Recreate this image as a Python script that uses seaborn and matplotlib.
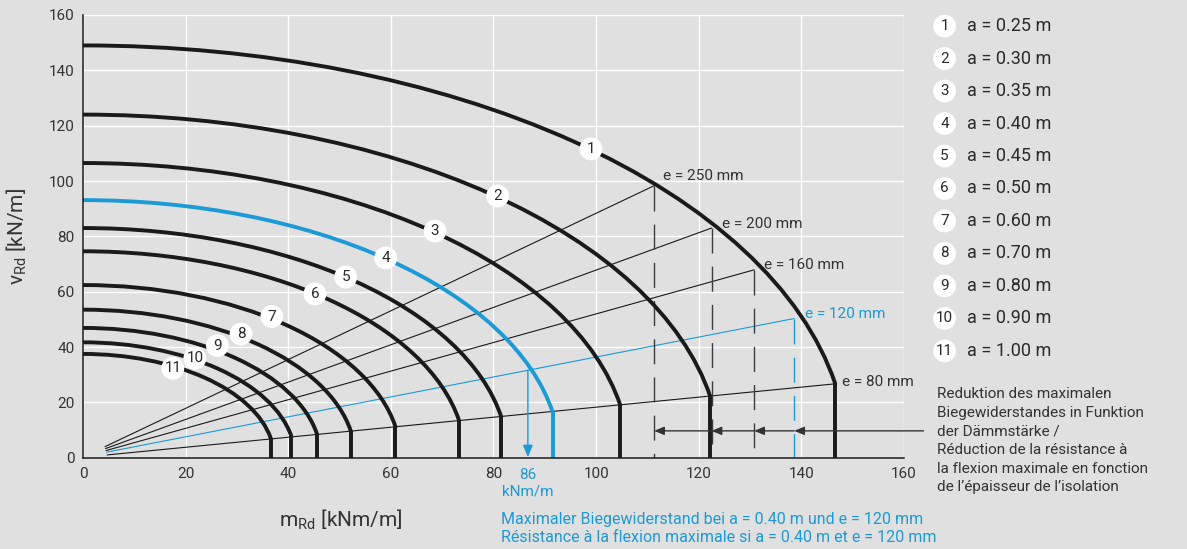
import numpy as np
import matplotlib
matplotlib.use("Agg")
import matplotlib.pyplot as plt
from matplotlib.patches import Arc
import seaborn as sns

# ---------------- data ----------------
curve_ids = [1, 2, 3, 4, 5, 6, 7, 8, 9, 10, 11]
a_values = ["0.25", "0.30", "0.35", "0.40", "0.45", "0.50", "0.60", "0.70", "0.80", "0.90", "1.00"]
v_max = [149.0, 124.0, 106.5, 93.1, 83.0, 74.6, 62.4, 53.5, 46.9, 41.7, 37.5]   # v_Rd at m_Rd = 0
m_max = [146.6, 122.2, 104.7, 91.5, 81.5, 73.3, 60.9, 52.2, 45.6, 40.6, 36.6]   # m_Rd of vertical drop
v_drop = [26.7, 22.3, 19.0, 16.6, 14.8, 13.4, 11.2, 9.6, 8.6, 7.8, 7.0]        # v_Rd where drop starts
highlight_id = 4

e_labels = ["e = 250 mm", "e = 200 mm", "e = 160 mm", "e = 120 mm", "e = 80 mm"]
e_start_m = [4.3, 4.4, 4.5, 4.6, 4.7]
e_start_v = [4.0, 3.3, 2.6, 2.0, 1.0]
e_end_m = [111.3, 122.5, 130.8, 138.6, 146.6]
e_end_v = [98.3, 83.0, 67.9, 50.3, 26.7]
e_highlight = "e = 120 mm"

arrow_level_v = 9.7
arrow_tail_m = 163.8
m_result = 86.7
v_result = 31.6

x_ticks = [0, 20, 40, 60, 80, 100, 120, 140, 160]
y_ticks = [0, 20, 40, 60, 80, 100, 120, 140, 160]

note_lines = ["Reduktion des maximalen",
              "Biegewiderstandes in Funktion",
              "der Dämmstärke /",
              "Réduction de la résistance à",
              "la flexion maximale en fonction",
              "de l\u2019épaisseur de l\u2019isolation"]
blue_note_lines = ["Maximaler Biegewiderstand bei a = 0.40 m und e = 120 mm",
                   "Résistance à la flexion maximale si a = 0.40 m et e = 120 mm"]

# ---------------- layout (label anchor positions) ----------------
num_pos_m = [99.0, 80.8, 68.6, 59.0, 51.2, 45.2, 36.8, 30.8, 26.2, 21.8, 17.5]
num_pos_v = [111.6, 94.6, 81.9, 72.2, 65.3, 59.2, 51.0, 44.7, 40.5, 35.9, 32.3]
e_lab_m = [113.0, 124.5, 132.7, 140.7, 148.0]
e_lab_v = [101.8, 84.5, 69.6, 51.9, 27.2]

BG = "#e0e0e0"
BLUE = "#1b9ad6"
INK = "#1a1a1a"
TXT = "#333333"
DASH = "#3c3c3c"

sns.set_theme(style="darkgrid", rc={
    "axes.facecolor": BG,
    "figure.facecolor": BG,
    "grid.color": "white",
    "grid.linewidth": 1.0,
})
plt.rcParams["font.family"] = ["Roboto", "DejaVu Sans"]
plt.rcParams["mathtext.default"] = "regular"

fig = plt.figure(figsize=(11.87, 5.49), dpi=100)
ax = fig.add_axes([0.0699, 0.1663, 0.6917, 0.8064])

# thin e-lines
for k in range(len(e_labels)):
    col = BLUE if e_labels[k] == e_highlight else INK
    sns.lineplot(x=[e_start_m[k], e_end_m[k]], y=[e_start_v[k], e_end_v[k]], ax=ax,
                 color=col, lw=0.8, estimator=None, sort=False, zorder=3)

# dashed verticals
for k in range(4):
    col = BLUE if e_labels[k] == e_highlight else DASH
    sns.lineplot(x=[e_end_m[k], e_end_m[k]], y=[e_end_v[k], 0], ax=ax,
                 color=col, lw=1.0, estimator=None, sort=False,
                 linestyle=(0, (18, 9.5)), zorder=3)

# interaction curves
for i in range(len(curve_ids)):
    col = BLUE if curve_ids[i] == highlight_id else INK
    v0, m1, v1 = v_max[i], m_max[i], v_drop[i]
    A = m1 / np.sqrt(1 - (v1 / v0) ** 2)
    th1 = np.degrees(np.arctan2(v1, m1))
    arc = Arc((0, 0), 2 * A, 2 * v0, theta1=th1, theta2=90, lw=2.8,
              color=col, zorder=4)
    arc.set_capstyle("round")
    ax.add_patch(arc)
    sns.lineplot(x=[m1, m1], y=[v1, 0], ax=ax, color=col, lw=2.8,
                 estimator=None, sort=False, zorder=4, solid_capstyle="butt")

# reduction arrows
tips = e_end_m[:4]
tails = e_end_m[1:4] + [arrow_tail_m]
for tip, tail in zip(tips, tails):
    ax.annotate("", xy=(tip, arrow_level_v), xytext=(tail, arrow_level_v),
                arrowprops=dict(arrowstyle="-|>,head_length=0.6,head_width=0.25",
                                color=TXT, lw=1.0, shrinkA=0, shrinkB=0,
                                mutation_scale=10),
                annotation_clip=False, zorder=5)

# result arrow (blue)
ax.annotate("", xy=(m_result, 0.2), xytext=(m_result, v_result),
            arrowprops=dict(arrowstyle="-|>,head_length=0.6,head_width=0.25",
                            color=BLUE, lw=1.0, shrinkA=0, shrinkB=0,
                            mutation_scale=12),
            annotation_clip=False, zorder=5)

# numbered circles on curves
sns.scatterplot(x=num_pos_m, y=num_pos_v, ax=ax, s=270, color="white",
                edgecolor="none", zorder=6, clip_on=False)
for i, cid in enumerate(curve_ids):
    ax.text(num_pos_m[i], num_pos_v[i], str(cid), ha="center", va="center",
            fontsize=11, color="#2a2a2a", zorder=7)

# e labels
for k in range(len(e_labels)):
    col = BLUE if e_labels[k] == e_highlight else TXT
    ax.text(e_lab_m[k], e_lab_v[k], e_labels[k], ha="left", va="center",
            fontsize=11, color=col, zorder=7)

# legend at right
leg_m_circle, leg_m_text, leg_top, leg_step = 167.9, 172.2, 156.0, 11.74
leg_v = [leg_top - leg_step * i for i in range(len(curve_ids))]
sns.scatterplot(x=[leg_m_circle] * len(curve_ids), y=leg_v, ax=ax, s=270,
                color="white", edgecolor="none", zorder=6, clip_on=False)
for i, cid in enumerate(curve_ids):
    ax.text(leg_m_circle, leg_v[i], str(cid), ha="center", va="center",
            fontsize=11, color="#2a2a2a", zorder=7, clip_on=False)
    ax.text(leg_m_text, leg_v[i], f"a = {a_values[i]} m", ha="left", va="center",
            fontsize=13, color="#2a2a2a", zorder=7, clip_on=False)

# note text at right
for i, line in enumerate(note_lines):
    ax.text(166.5, 23.0 - 6.75 * i, line, ha="left", va="center",
            fontsize=11, color=TXT, clip_on=False)

# blue annotations below axis
ax.text(m_result, -6.1, "86", ha="center", va="center", fontsize=11,
        color=BLUE, clip_on=False)
ax.text(m_result, -12.3, "kNm/m", ha="center", va="center", fontsize=11,
        color=BLUE, clip_on=False)
for i, line in enumerate(blue_note_lines):
    ax.text(81.4, -22.3 - 6.5 * i, line, ha="left", va="center",
            fontsize=11.5, color=BLUE, clip_on=False)

# axes styling
ax.set_xlim(0, 160)
ax.set_ylim(0, 160)
ax.set_xticks(x_ticks)
ax.set_yticks(y_ticks)
ax.set_xticks([0], minor=True)
ax.set_yticks([0], minor=True)
ax.tick_params(which="major", length=0, labelsize=11, labelcolor=TXT)
ax.tick_params(axis="x", which="major", pad=7)
ax.tick_params(axis="y", which="major", pad=6)
ax.tick_params(which="minor", length=4, width=1.1, color=INK, bottom=True, left=True)
ax.grid(True, which="major", color="white", lw=1.0)
ax.grid(False, which="minor")
for s in ["top", "right"]:
    ax.spines[s].set_visible(False)
for s in ["left", "bottom"]:
    ax.spines[s].set_visible(True)
    ax.spines[s].set_color(INK)
    ax.spines[s].set_linewidth(1.1)
    ax.spines[s].set_zorder(5)

ax.set_xlabel("m$_{Rd}$ [kNm/m]", fontsize=15, color=TXT)
ax.set_ylabel("v$_{Rd}$ [kN/m]", fontsize=15, color=TXT)
ax.xaxis.set_label_coords(0.314, -0.1407)
ax.xaxis.label.set_va("center")
ax.yaxis.set_label_coords(-0.0804, 0.5)
ax.yaxis.label.set_va("center")

fig.savefig("out.png", dpi=100, facecolor=BG)
